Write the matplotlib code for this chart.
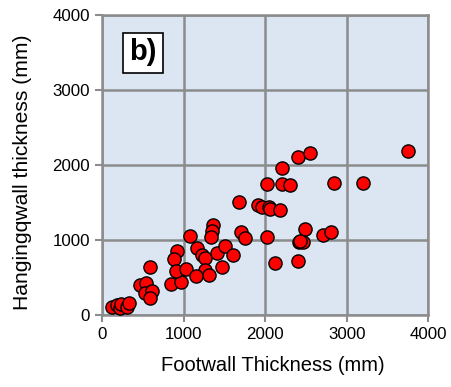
import matplotlib.pyplot as plt
from matplotlib.patches import Rectangle

plt.rcParams['font.family'] = ['Liberation Sans', 'DejaVu Sans']

# Footwall vs hangingwall thickness (mm)
footwall = [126, 180, 221, 233, 303, 335, 466, 536, 527, 609, 588, 588,
            842, 972, 915, 882, 907, 1029, 1078, 1168, 1222, 1266, 1266, 1308,
            1148, 1406, 1504, 1602, 1474, 1364, 1352, 1332, 1700, 1752, 2026,
            1679, 1918, 1957, 2053, 2059, 2181, 2023, 2206, 2304, 2206, 2398,
            2549, 2847, 3195, 3754, 2484, 2712, 2803, 2411, 2467, 2430, 2124, 2398]
hangingwall = [103, 133, 89, 143, 103, 156, 400, 423, 297, 320, 223, 644,
               409, 444, 857, 747, 591, 617, 1057, 897, 800, 756, 600, 533,
               520, 823, 924, 800, 644, 1200, 1124, 1036, 1111, 1023, 1044,
               1503, 1464, 1444, 1436, 1409, 1400, 1747, 1747, 1729, 1964, 2103,
               2156, 1756, 1756, 2187, 1151, 1063, 1103, 969, 969, 987, 697, 716]

fig = plt.figure(figsize=(4.51, 3.87), dpi=100)
ax = fig.add_axes([0.226, 0.186, 0.7237, 0.775])
ax.set_facecolor('#dce6f2')

ax.scatter(footwall, hangingwall, s=90, color='red', edgecolor='black',
           linewidth=1.0, zorder=3)

ax.set_xlim(0, 4000)
ax.set_ylim(0, 4000)
ax.set_xticks([0, 1000, 2000, 3000, 4000])
ax.set_yticks([0, 1000, 2000, 3000, 4000])
ax.grid(True, color='#8c8c8c', linewidth=1.8, zorder=1)
ax.set_axisbelow(True)
for sp in ax.spines.values():
    sp.set_color('#8c8c8c')
    sp.set_linewidth(1.8)
ax.tick_params(colors='#8c8c8c', labelcolor='black', labelsize=12.2,
               length=5, width=1.5)

ax.set_xlabel('Footwall Thickness (mm)', fontsize=14.5)
ax.set_ylabel('Hangingqwall thickness (mm)', fontsize=15.2)
ax.xaxis.set_label_coords(0.524, -0.135)
ax.yaxis.set_label_coords(-0.213, 0.475)

# "b)" panel label in a white box
ax.add_patch(Rectangle((0.0634, 0.808), 0.1246, 0.133, transform=ax.transAxes,
                       facecolor='white', edgecolor='black', linewidth=1.2,
                       zorder=5))
ax.text(0.125, 0.876, 'b)', transform=ax.transAxes, fontsize=21,
        fontweight='bold', ha='center', va='center', zorder=6)

fig.savefig('out.png', dpi=100)
